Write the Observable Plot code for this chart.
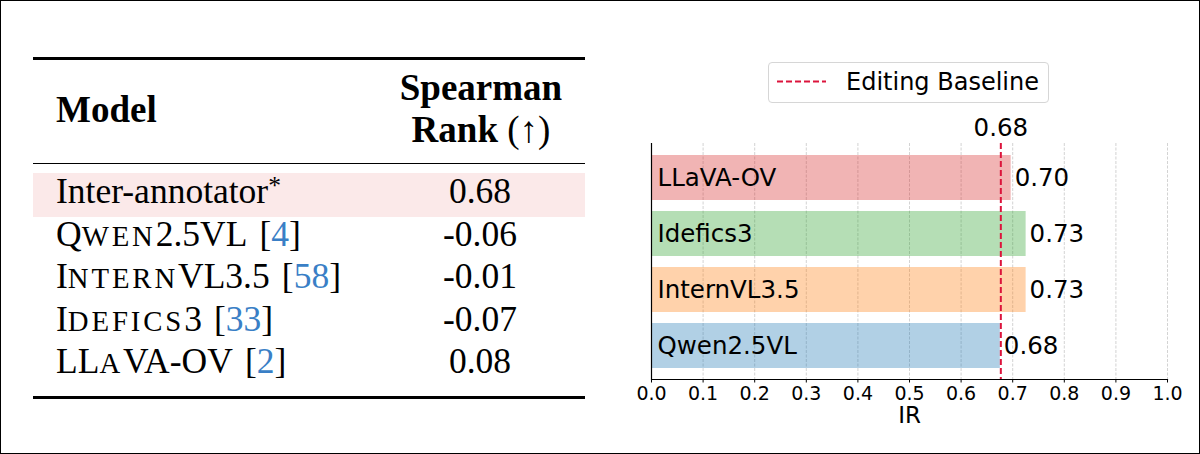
<!DOCTYPE html>
<html>
<head>
<meta charset="utf-8">
<script src="https://cdn.jsdelivr.net/npm/d3@7"></script>
<script src="https://cdn.jsdelivr.net/npm/@observablehq/plot@0.6"></script>
<style>
  html, body { margin: 0; padding: 0; background: #fff; }
  #page { position: relative; width: 1200px; height: 454px; overflow: hidden; background: #fff; }
  #border { position: absolute; left: 0; top: 0; width: 1200px; height: 454px; box-sizing: border-box; border: 1.5px solid #000; pointer-events: none; }
  .tx { position: absolute; white-space: nowrap; line-height: 0; font-family: "Liberation Serif", "Times New Roman", serif; color: #000; }
  .sc { font-size: 0.81em; letter-spacing: 0.1em; }
  .rule { position: absolute; background: #000; }
  #chart { position: absolute; left: 600px; top: 40px; }
  #legend { position: absolute; left: 768px; top: 62px; width: 281px; height: 41px; box-sizing: border-box; border: 1px solid #d6d6d6; border-radius: 4px; background: #fff; }
</style>
</head>
<body>
<div id="page"></div>
<script>
// ---------- Table data ----------
const tableModels = ["Inter-annotator", "Qwen2.5VL", "InternVL3.5", "Idefics3", "LLaVA-OV"];
const tableSmallCaps = [false, true, true, true, true];
const tableMarks = ["*", "", "", "", ""];
const tableRefs = ["", "4", "58", "33", "2"];
const tableSpearman = [0.68, -0.06, -0.01, -0.07, 0.08];
const tableHighlight = [true, false, false, false, false];
const tableHeaders = ["Model", "Spearman", "Rank", "(↑)"];

// ---------- Chart data ----------
const barModels = ["LLaVA-OV", "Idefics3", "InternVL3.5", "Qwen2.5VL"];
const barIR = [0.697, 0.726, 0.726, 0.676];
const barColors = ["#d62728", "#2ca02c", "#ff7f0e", "#1f77b4"];
const baselineIR = 0.677;
const baselineLabel = "Editing Baseline";
const xTicks = [0, 0.1, 0.2, 0.3, 0.4, 0.5, 0.6, 0.7, 0.8, 0.9, 1.0];
const xLabel = "IR";

const page = document.getElementById("page");

// ---------- Table (HTML) ----------
const SERIF_MID = 0.3375; // (ascent - descent)/2 for Liberation Serif
function addText(html, x, baseline, size, anchor, weight) {
  const d = document.createElement("div");
  d.className = "tx";
  d.innerHTML = html;
  d.style.fontSize = size + "px";
  d.style.top = (baseline - SERIF_MID * size) + "px";
  d.style.left = x + "px";
  if (weight) d.style.fontWeight = weight;
  if (anchor === "middle") d.style.transform = "translateX(-50%)";
  page.appendChild(d);
  return d;
}
function addRect(cls, x, y, w, h, color) {
  const d = document.createElement("div");
  d.className = cls;
  Object.assign(d.style, { left: x + "px", top: y + "px", width: w + "px", height: h + "px" });
  if (color) d.style.background = color;
  page.appendChild(d);
}
// LaTeX-like small caps: lowercase letters become reduced capitals
function smallCaps(s) {
  return s.replace(/[a-z]+/g, m => `<span class="sc">${m.toUpperCase()}</span>`);
}

const TL = 33, TR = 585, colX = 56, valX = 480;
const rowBase0 = 203, rowStep = 42.5, rowSize = 35.5, headSize = 37;

tableHighlight.forEach((h, i) => {
  if (h) addRect("rule", TL, rowBase0 + i * rowStep - 30, TR - TL, 44, "#fbe9e9");
});
addRect("rule", TL, 57, TR - TL, 2.5);
addRect("rule", TL, 162.5, TR - TL, 1.5);
addRect("rule", TL, 396, TR - TL, 2.5);

addText(tableHeaders[0], colX, 122, headSize, "start", "bold");
addText(tableHeaders[1], valX + 1, 100, headSize, "middle", "bold");
addText(`<b>${tableHeaders[2]}</b> ${tableHeaders[3]}`, valX + 1, 142, headSize, "middle", "normal");

const fmt2 = d3.format(".2f");
tableModels.forEach((m, i) => {
  const b = rowBase0 + i * rowStep;
  let html = tableSmallCaps[i] ? smallCaps(m) : m;
  if (tableMarks[i]) html += `<span style="position:relative;top:-0.36em;font-size:0.72em">${tableMarks[i]}</span>`;
  if (tableRefs[i]) html += `<span style="margin-left:0.34em">[<span style="color:#3a7fc6">${tableRefs[i]}</span>]</span>`;
  addText(html, colX, b, rowSize, "start");
  addText(fmt2(tableSpearman[i]).replace("−", "-"), valX, b, rowSize, "middle");
});

// ---------- Chart (Plot) ----------
const bars = barModels.map((m, i) => ({ model: m, ir: barIR[i], color: barColors[i] }));
const chart = Plot.plot({
  width: 590,
  height: 400,
  marginLeft: 51,
  marginRight: 23,
  marginTop: 103,
  marginBottom: 61,
  style: { fontFamily: "'DejaVu Sans', sans-serif", fontSize: "19px", background: "transparent", color: "#000", overflow: "visible" },
  x: { domain: [0, 1] },
  y: { domain: barModels, padding: 0.2, axis: null },
  color: { type: "identity" },
  marks: [
    Plot.gridX(xTicks, { stroke: "#b0b0b0", strokeOpacity: 0.7, strokeWidth: 0.8, strokeDasharray: "3,1.5" }),
    Plot.barX(bars, { x: "ir", y: "model", fill: "color", fillOpacity: 0.35 }),
    Plot.ruleX([baselineIR], { stroke: "crimson", strokeWidth: 2, strokeDasharray: "6,3" }),
    Plot.ruleX([0], { stroke: "#000", strokeWidth: 1.2 }),
    Plot.frame({ anchor: "bottom", stroke: "#000", strokeWidth: 1.2 }),
    Plot.axisX(xTicks, { tickSize: 3.5, tickPadding: 3, tickFormat: d3.format(".1f"), fontSize: 19, label: null }),
    Plot.text(bars, { x: 0, y: "model", text: "model", textAnchor: "start", dx: 6, fontSize: 24.5, fill: "#000" }),
    Plot.text(bars, { x: "ir", y: "model", text: d => fmt2(d.ir), textAnchor: "start", dx: 3.5, fontSize: 24.5, fill: "#000" }),
    Plot.text([baselineIR], { x: d => d, frameAnchor: "top", text: d => fmt2(d), lineAnchor: "bottom", dy: -8, fontSize: 24.5, fill: "#000" }),
    Plot.text([xLabel], { frameAnchor: "bottom", text: d => d, lineAnchor: "middle", dy: 36, fontSize: 23, fill: "#000" })
  ]
});
chart.id = "chart";
page.appendChild(chart);

// ---------- Legend (HTML, above the plot) ----------
const lg = document.createElement("div");
lg.id = "legend";
lg.innerHTML =
  `<svg width="60" height="39" style="position:absolute;left:0;top:0">
     <line x1="8" x2="57" y1="18.5" y2="18.5" stroke="crimson" stroke-width="2" stroke-dasharray="6,3"></line>
   </svg>
   <div style="position:absolute;left:77px;top:${27 - 0.346 * 24}px;line-height:0;font-family:'DejaVu Sans',sans-serif;font-size:24px;white-space:nowrap">${baselineLabel}</div>`;
page.appendChild(lg);

const border = document.createElement("div");
border.id = "border";
page.appendChild(border);
</script>
</body>
</html>
